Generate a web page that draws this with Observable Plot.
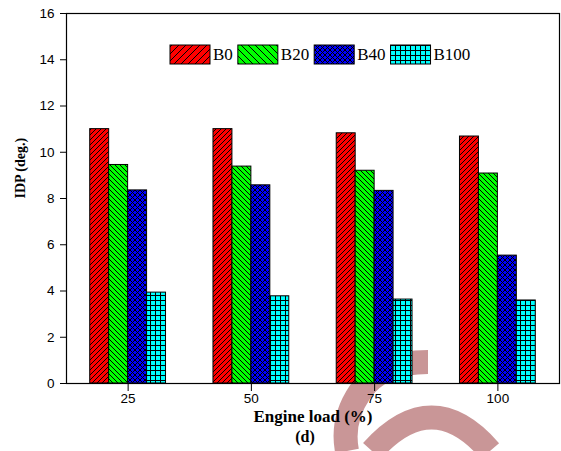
<!DOCTYPE html>
<html><head><meta charset="utf-8">
<script src="https://cdn.jsdelivr.net/npm/d3@7"></script>
<script src="https://cdn.jsdelivr.net/npm/@observablehq/plot@0.6"></script>
<style>
body{margin:0;background:#fff;}
#chart svg{display:block;}
</style></head><body><div id="chart"></div>
<script>
const loads = [25, 50, 75, 100];
const series = ["B0", "B20", "B40", "B100"];
const B0 = [11.0, 11.0, 10.82, 10.68];
const B20 = [9.45, 9.38, 9.2, 9.08];
const B40 = [8.35, 8.57, 8.33, 5.53];
const B100 = [3.93, 3.77, 3.63, 3.59];
const yTicks = [0, 2, 4, 6, 8, 10, 12, 14, 16];
const xTicks = [25, 50, 75, 100];
const xLabel = "Engine load (%)";
const yLabel = "IDP (deg.)";
const panelLabel = "(d)";
const colors = {B0: "#ff0000", B20: "#00ff00", B40: "#0000ff", B100: "#00ffff"};
const hatch = {B0: "fwd", B20: "back", B40: "cross", B100: "grid"};

const values = {B0, B20, B40, B100};
const groupFrac = 0.615, step = 25;
const bw = step * groupFrac / series.length;
const rows = [];
series.forEach((s, i) => loads.forEach((l, j) => {
  const x1 = l - step * groupFrac / 2 + i * bw;
  rows.push({series: s, load: l, value: values[s][j], x1, x2: x1 + bw});
}));

const W = 561, H = 451;
const serif = "'Liberation Serif', 'Times New Roman', serif";
const plot = Plot.plot({
  width: W, height: H,
  marginLeft: 66, marginRight: 2, marginTop: 13, marginBottom: 68,
  style: {fontFamily: "'Liberation Sans', Arial, sans-serif", fontSize: "13.5px", color: "black", background: "white"},
  x: {domain: [12.5, 112.5], ticks: xTicks, tickSize: 8, tickPadding: 2, label: null, tickFormat: d => String(d)},
  y: {domain: [0, 16], ticks: yTicks, tickSize: 6, tickPadding: 6, label: null},
  marks: [
    ...series.map(s => Plot.rect(rows.filter(d => d.series === s), {
      x1: "x1", x2: "x2", y1: 0, y2: "value",
      fill: `url(#pat-${s})`, stroke: "black", strokeWidth: 1
    })),
    Plot.frame({stroke: "black", strokeWidth: 1.2}),
    Plot.text([xLabel], {text: d => d, frameAnchor: "bottom", dy: 38, fontWeight: "bold", fontSize: 17, fontFamily: serif}),
    Plot.text([panelLabel], {text: d => d, frameAnchor: "bottom", dy: 58, dx: -8, fontWeight: "bold", fontSize: 16, fontFamily: serif}),
    Plot.text([yLabel], {text: d => d, frameAnchor: "left", rotate: -90, dx: -46, fontWeight: "bold", fontSize: 14, fontFamily: serif})
  ]
});
document.getElementById("chart").appendChild(plot);

const svg = d3.select(plot);
const defs = svg.insert("defs", ":first-child");
function makePattern(id, kind, color, sz) {
  const p = defs.append("pattern").attr("id", id).attr("patternUnits", "userSpaceOnUse")
    .attr("width", sz).attr("height", sz);
  p.append("rect").attr("width", sz).attr("height", sz).attr("fill", color);
  let d = "";
  const f = `M${-1},1 L1,${-1} M0,${sz} L${sz},0 M${sz-1},${sz+1} L${sz+1},${sz-1}`;
  const b = `M${-1},${sz-1} L1,${sz+1} M0,0 L${sz},${sz} M${sz-1},${-1} L${sz+1},1`;
  if (kind === "fwd") d = f;
  else if (kind === "back") d = b;
  else if (kind === "cross") d = f + " " + b;
  else d = `M0,0.5 L${sz},0.5 M0.5,0 L0.5,${sz}`;
  p.append("path").attr("d", d).attr("stroke", "black").attr("stroke-width", 1).attr("fill", "none");
}
series.forEach(s => {
  makePattern(`pat-${s}`, hatch[s], colors[s], 5);
  makePattern(`lpat-${s}`, hatch[s], colors[s], (hatch[s] === "fwd" || hatch[s] === "back") ? 7 : 5);
});

// watermark (decoration, beneath the chart)
const wm = svg.insert("g", "g").attr("fill", "none").attr("stroke", "#c99697").attr("stroke-width", 24);
wm.append("path").attr("d", "M428,362 Q380,362 360,392 Q341,420 347,451");
wm.append("path").attr("d", "M372,451 Q432,384 490,451");

// legend
const lg = svg.append("g");
let xpos = 170;
const ly = 45, lw = 40, lh = 19;
series.forEach(s => {
  lg.append("rect").attr("x", xpos).attr("y", ly).attr("width", lw).attr("height", lh)
    .attr("fill", `url(#lpat-${s})`).attr("stroke", "black").attr("stroke-width", 1);
  const t = lg.append("text").attr("x", xpos + lw + 3).attr("y", ly + lh / 2).attr("dy", "0.35em")
    .attr("text-anchor", "start")
    .attr("font-family", serif).attr("font-size", 17)
    .attr("fill", "black").text(s);
  xpos += lw + 3 + t.node().getComputedTextLength() + 5;
});
</script></body></html>
